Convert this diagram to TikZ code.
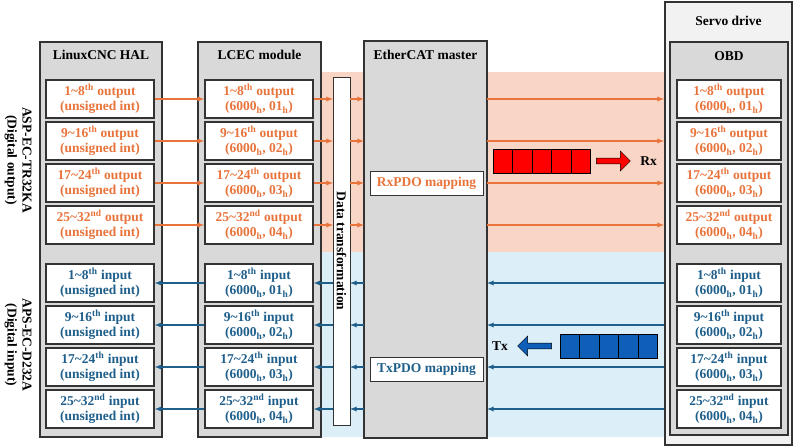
\documentclass[tikz,border=0pt]{standalone}
\usepackage{fontspec}
\setmainfont{Liberation Serif}
\usetikzlibrary{positioning,shapes.arrows}
\definecolor{outc}{HTML}{E8743B}
\definecolor{inc}{HTML}{1F5F8B}
\definecolor{pktblue}{HTML}{0F5FB8}
\definecolor{outbg}{HTML}{F8D5C4}
\definecolor{inbg}{HTML}{DCEEF8}
\definecolor{colbg}{HTML}{D9D9D9}
\newcommand{\bigfont}{\fontsize{13.5}{15}\selectfont\bfseries}
\tikzset{
  column/.style={draw=black!80, line width=1.2pt, fill=colbg, anchor=north west, inner sep=0pt},
  item/.style={draw=black!80, line width=1.4pt, fill=white, minimum width=108pt, minimum height=38pt, inner sep=0pt, align=center, font=\bigfont},
  title/.style={font=\bigfont},
  outarrow/.style={outc, line width=1.3pt, -latex},
  inarrow/.style={inc, line width=1.3pt, -latex},
  cell/.style={draw=black, line width=0.8pt, minimum width=19.4pt, minimum height=24pt, inner sep=0pt}
}
\newcommand{\hx}[1]{#1\textsubscript{h}}
\begin{document}
\begin{tikzpicture}[x=1pt,y=-1pt]
\useasboundingbox (0,0) rectangle (800,447);
% backgrounds
\fill[outbg] (322,72) rectangle (665,252);
\fill[inbg] (322,252) rectangle (665,437);
% columns
\draw[column] (40,42) rectangle (162,437);
\draw[column] (198,42) rectangle (321,437);
\draw[column] (364,41) rectangle (487,438);
\draw[draw=black!80, line width=1.2pt, fill=black!5] (665,2) rectangle (792,445);
\draw[column] (670,42) rectangle (788,435);
\node[title] (haltitle) at (101,55) {LinuxCNC HAL};
\node[title] (lcectitle) at (259.5,55) {LCEC module};
\node[title] (mastertitle) at (425.5,55) {EtherCAT master};
\node[title] (servotitle) at (728.5,21) {Servo drive};
\node[title] (obdtitle) at (729,56) {OBD};
% data transformation bar
\node[draw=black!80, line width=1pt, fill=white, minimum width=348pt, minimum height=17pt, inner sep=0pt, rotate=-90, font=\bigfont] (dt) at (341.5,251) {Data transformation};
% mapping boxes
\node[draw=black!80, line width=1pt, fill=white, minimum width=113pt, minimum height=24pt, font=\bigfont, text=outc] (rxmap) at (426.5,183) {RxPDO mapping};
\node[draw=black!80, line width=1pt, fill=white, minimum width=113pt, minimum height=24pt, font=\bigfont, text=inc] (txmap) at (426.5,369) {TxPDO mapping};
% outputs
\foreach \i/\r/\sf/\sx in {1/1\string~8/th/01, 2/9\string~16/th/02, 3/17\string~24/th/03, 4/25\string~32/nd/04} {
  \pgfmathsetmacro{\yy}{57+42*\i}
  \node[item, text=outc] (halo\i) at (100,\yy) {\r\textsuperscript{\sf} output\\(unsigned int)};
  \node[item, text=outc] (lceco\i) at (259,\yy) {\r\textsuperscript{\sf} output\\(\hx{6000}, \hx{\sx})};
  \node[item, text=outc, minimum width=104pt] (obdo\i) at (729,\yy) {\r\textsuperscript{\sf} output\\(\hx{6000}, \hx{\sx})};
  \coordinate (mo\i) at (364,\yy);
  \coordinate (mor\i) at (487,\yy);
  \coordinate (dtl\i) at (333,\yy);
  \coordinate (dtr\i) at (350,\yy);
  \coordinate (obdl\i) at (664,\yy);
  \draw[outarrow] (halo\i.east) -- (lceco\i.west);
  \draw[outarrow] (lceco\i.east) -- (dtl\i);
  \draw[outarrow] (dtr\i) -- (mo\i);
  \draw[outarrow] (mor\i) -- (obdl\i);
}
% inputs
\foreach \i/\r/\sf/\sx in {1/1\string~8/th/01, 2/9\string~16/th/02, 3/17\string~24/th/03, 4/25\string~32/nd/04} {
  \pgfmathsetmacro{\yy}{241+42*\i}
  \node[item, text=inc] (hali\i) at (100,\yy) {\r\textsuperscript{\sf} input\\(unsigned int)};
  \node[item, text=inc] (lceci\i) at (259,\yy) {\r\textsuperscript{\sf} input\\(\hx{6000}, \hx{\sx})};
  \node[item, text=inc, minimum width=104pt] (obdi\i) at (729,\yy) {\r\textsuperscript{\sf} input\\(\hx{6000}, \hx{\sx})};
  \coordinate (mi\i) at (364,\yy);
  \coordinate (mir\i) at (487,\yy);
  \coordinate (dil\i) at (333,\yy);
  \coordinate (dir\i) at (350,\yy);
  \coordinate (obdil\i) at (664,\yy);
  \draw[inarrow] (lceci\i.west) -- (hali\i.east);
  \draw[inarrow] (dil\i) -- (lceci\i.east);
  \draw[inarrow] (mi\i) -- (dir\i);
  \draw[inarrow] (obdil\i) -- (mir\i);
}
% packets
\foreach \k in {0,...,4} {
  \node[cell, fill=red] (rx\k) at (503+19.4*\k,161) {};
  \node[cell, fill=pktblue] (tx\k) at (570+19.4*\k,346) {};
}
\node[single arrow, draw=black, fill=red, minimum height=34pt, minimum width=20pt, single arrow head extend=3pt, inner sep=1pt] (rxarrow) at (612,161) {};
\node[font=\bigfont, right=6pt of rxarrow] (rxlabel) {Rx};
\node[single arrow, draw=black, fill=pktblue, shape border rotate=180, minimum height=34pt, minimum width=20pt, single arrow head extend=3pt, inner sep=1pt] (txarrow) at (536,346) {};
\node[font=\bigfont, left=6pt of txarrow] (txlabel) {Tx};
% side labels
\node[rotate=-90, align=center, font=\bigfont] (outside) at (18,160) {ASP-EC-TR32KA\\(Digital output)};
\node[rotate=-90, align=center, font=\bigfont] (inside) at (18,345) {APS-EC-D232A\\(Digital input)};
\end{tikzpicture}
\end{document}
